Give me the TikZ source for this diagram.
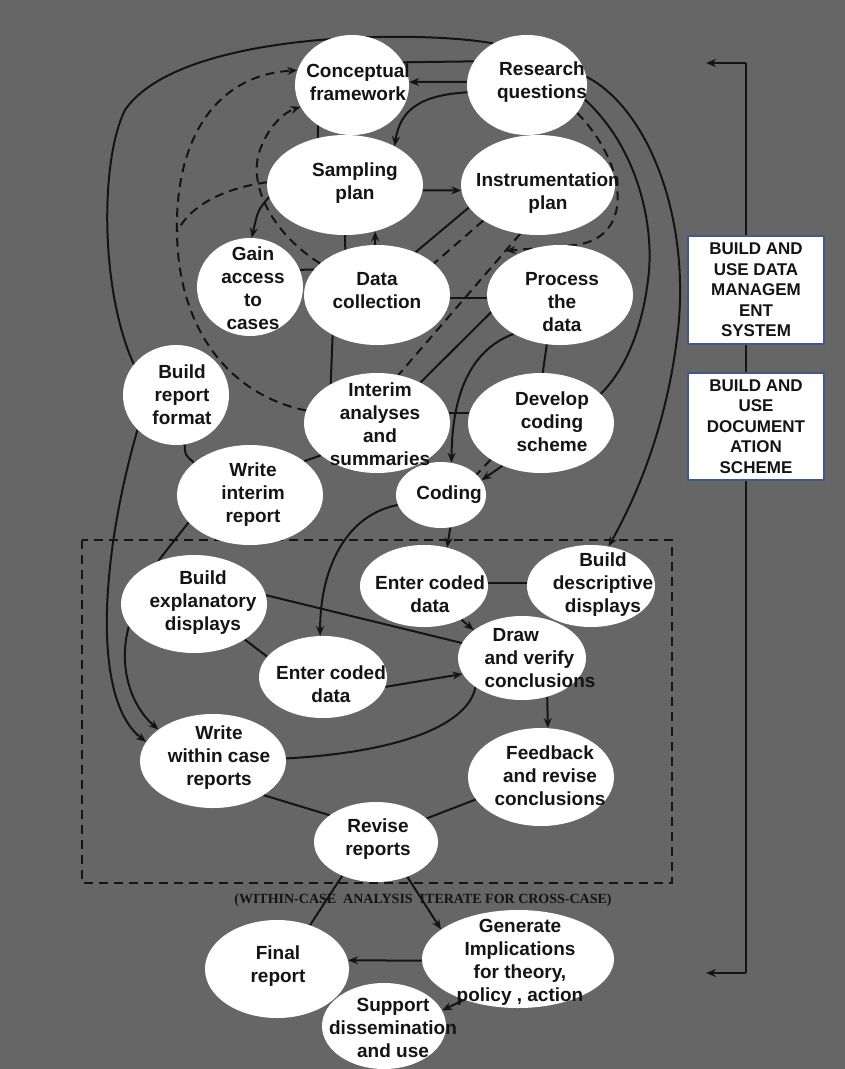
\documentclass[tikz,border=0pt]{standalone}
\usepackage{fontspec}
\setmainfont{Liberation Sans}
\newfontfamily\capfont{Liberation Serif}
\usetikzlibrary{arrows.meta, shapes.geometric, backgrounds}
\definecolor{scangray}{RGB}{102,102,102}
\definecolor{boxblue}{RGB}{60,90,140}
\definecolor{inkblack}{RGB}{20,20,20}
\tikzset{
  bubble/.style = {ellipse, fill=white, draw=none, inner sep=0pt},
  lbl/.style    = {align=center, inner sep=0pt, text=inkblack,
                   font=\fontsize{19}{23}\selectfont\bfseries},
  sysbox/.style = {draw=boxblue, line width=2pt, fill=white, inner sep=0pt,
                   align=center, minimum width=136pt, text=inkblack,
                   font=\fontsize{17}{20.5}\selectfont\bfseries},
  link/.style   = {draw=inkblack, line width=2pt},
  dlink/.style  = {link, dash pattern=on 9pt off 6pt},
  tip/.style    = {-{Stealth[length=10pt, width=8pt]}},
  arrow/.style  = {link, tip},
}

\begin{document}
\begin{tikzpicture}[x=1pt, y=1pt]
  \useasboundingbox (0,0) rectangle (845,-1069);
  \begin{scope}[on background layer]
    \fill[scangray] (0,0) rectangle (845,-1069);
  \end{scope}

  % the steps (ellipses)
  \foreach \n/\x/\y/\w/\h in {cf/352/85/114/100, rq/527/85/120/100,
      sp/345/185/156/100, ip/538/185/154/100, ga/250/287/106/98,
      dc/377/295/146/100, pd/560/295/146/100, br/176/395/106/100,
      ia/377/423/146/100, dv/541/423/146/100, wi/250/495/146/100,
      co/441/495/90/66, be/194/604/146/98, eu/424/586/128/82,
      bd/591/586/128/82, dr/522/658/128/84, el/323/677/128/82,
      ww/213/761/146/94, fb/541/777/146/98, rr/376/842/124/80,
      fr/277/969/144/98, gi/518/959/192/98, sd/384/1026/124/86} {
    \node[bubble, minimum width=\w pt, minimum height=\h pt] (\n) at (\x,-\y) {};
  }
  % their texts
  \foreach \n/\x/\y/\t in {cf/358/82/{Conceptual\\framework},
      rq/542/82/{Research\\questions}, sp/355/183/{Sampling\\plan},
      ip/548/193/{Instrumentation\\plan}, ga/253/288/{Gain\\access\\to\\cases},
      dc/377/291/{Data\\collection}, pd/562/302/{Process\\the\\data},
      br/182/395/{Build\\report\\format},
      ia/380/424/{Interim\\analyses\\and\\summaries},
      dv/552/422/{Develop\\coding\\scheme}, wi/253/495/{Write\\interim\\report},
      co/449/495/{Coding}, be/203/603/{Build\\explanatory\\displays},
      eu/430/594/{Enter coded\\data}, bd/603/585/{Build\\descriptive\\displays},
      el/331/684/{Enter coded\\data}, ww/219/758/{Write\\within case\\reports},
      fb/550/776/{Feedback\\and revise\\conclusions}, rr/378/839/{Revise\\reports},
      fr/278/966/{Final\\report},
      gi/520/962/{Generate\\Implications\\for theory,\\policy , action},
      sd/393/1028/{Support\\dissemination\\and use}} {
    \node[lbl] (\n-txt) at (\x,-\y) {\t};
  }
  \node[lbl, align=left] (dr-txt) at (540,-658) {\hspace{8pt}Draw\\and verify\\conclusions};

  % side boxes and caption
  \node[sysbox, minimum height=108pt] (dms) at (756,-290) {BUILD AND\\USE DATA\\MANAGEM\\ENT\\SYSTEM};
  \node[sysbox, minimum height=107pt] (dcs) at (756,-426.5) {BUILD AND\\USE\\DOCUMENT\\ATION\\SCHEME};
  \node[inner sep=0pt, text=inkblack, font=\capfont\fontsize{14}{16}\selectfont\bfseries]
    (caption) at (423,-900) {(WITHIN-CASE\ \ ANALYSIS\ \ ITERATE FOR CROSS-CASE)};

  \coordinate (bt) at (746,-63);   \coordinate (btip) at (706,-63);
  \coordinate (bb) at (746,-973);  \coordinate (bbtip) at (706,-973);
  \coordinate (mrg) at (177,-232);
  \path (ip.250) -- (ia.66) coordinate[pos=0.12] (jn);

  \begin{scope}[on background layer]
    % bracket on the right
    \draw[link] (bt) -- (bb);
    \draw[arrow] (bt) -- (btip);
    \draw[arrow] (bb) -- (bbtip);
    % dashed frame
    \draw[dlink] (82,-540) rectangle (672,-883);
    % top part
    \draw[link] (rq.129) .. controls (420,-30) and (180,-30) .. (125,-110)
                .. controls (100,-160) and (100,-290) .. (br.144);
    \draw[link] (cf.24) -- (rq.156);
    \draw[arrow] (rq.177) -- (cf.3);
    \draw[arrow] (rq.187) .. controls (420,-95) and (400,-110) .. (sp.38);
    \draw[link] (cf.230) -- (sp.120);
    \draw[arrow] (sp.356) -- (ip.184);
    \draw[arrow] (sp.189) .. controls (258,-210) .. (ga.88);
    \draw[link] (sp.270) -- (dc.125);
    \draw[arrow] (dc.92) -- (sp.303);
    \draw[link] (ga.19) -- (dc.158);
    \draw[link] (ip.198) -- (dc.48);
    \draw[dlink] (ip.213) -- (dc.29);
    \draw[dlink] (ip.250) -- (ia.66);
    \draw[dlink, tip] (rq.331) .. controls (628,-165) and (635,-238) .. (575,-245) -- (jn);
    % right side loops
    \draw[arrow] (rq.8) .. controls (650,-110) and (690,-220) .. (678,-330)
                 .. controls (668,-420) and (640,-490) .. (bd.66);
    \draw[link] (rq.346) .. controls (640,-150) and (655,-230) .. (648,-280)
                .. controls (642,-330) and (625,-370) .. (dv.26);
    % left dashed loops
    \draw[dlink, tip] (ia.170) .. controls (230,-395) and (178,-330) .. (mrg)
                .. controls (175,-140) and (215,-75) .. (cf.165);
    \draw[dlink, tip] (dc.151) .. controls (270,-232) and (245,-180) .. (262,-145)
                .. controls (270,-125) and (285,-112) .. (cf.203);
    \draw[dlink] (sp.178) .. controls (225,-188) and (190,-205) .. (mrg);
    % middle part
    \draw[link] (dc.358) -- (pd.182);
    \draw[link] (dc.222) -- (ia.140);
    \draw[link] (pd.194) -- (ia.43);
    \draw[arrow] (pd.220) .. controls (470,-350) and (452,-395) .. (co.72);
    \draw[link] (pd.255) -- (dv.88);
    \draw[link] (ia.8) -- (dv.172);
    \draw[arrow] (dv.228) -- (co.20);
    \draw[dlink] (dv.216) -- (co.30);
    \draw[link] (br.280) .. controls (185,-455) .. (wi.150);
    \draw[arrow] (br.222) .. controls (100,-560) and (92,-700) .. (ww.164);
    \draw[link] (wi.204) -- (be.130);
    \draw[link] (wi.32) -- (ia.210);
    % within-case analysis
    \draw[arrow] (be.199) .. controls (118,-665) and (130,-705) .. (ww.150);
    \draw[arrow] (co.193) .. controls (345,-515) and (320,-570) .. (el.94);
    \draw[arrow] (co.286) -- (eu.59);
    \draw[link] (bd.177) -- (eu.3);
    \draw[arrow] (eu.318) -- (dr.150);
    \draw[link] (be.7) -- (dr.166);
    \draw[link] (be.325) -- (el.160);
    \draw[arrow] (el.351) -- (dr.195);
    \draw[link] (dr.212) .. controls (468,-725) and (400,-752) .. (ww.2);
    \draw[arrow] (dr.303) -- (fb.82);
    \draw[link] (ww.326) -- (rr.150);
    \draw[link] (fb.199) -- (rr.25);
    % reporting
    \draw[link] (rr.225) -- (fr.53);
    \draw[arrow] (rr.312) -- (gi.159);
    \draw[arrow] (gi.181) -- (fr.7);
    \draw[arrow] (gi.217) -- (sd.15);
  \end{scope}
\end{tikzpicture}
\end{document}
